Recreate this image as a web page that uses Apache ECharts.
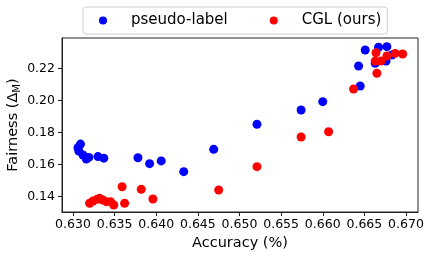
<!DOCTYPE html>
<html><head><meta charset="utf-8">
<script src="https://cdn.jsdelivr.net/npm/echarts@6/dist/echarts.min.js"></script>
<style>html,body{margin:0;padding:0;background:#fff}#c{width:432px;height:259px}</style>
</head><body><div id="c"></div>
<script>
const xTicks = [0.630,0.635,0.640,0.645,0.650,0.655,0.660,0.665,0.670];
const yTicks = [0.14,0.16,0.18,0.20,0.22];
const pseudoAcc  = [0.6309,0.6306,0.6307,0.6312,0.6316,0.6319,0.6330,0.6337,0.6378,0.6392,0.6406,0.6433,0.6469,0.6521,0.6574,0.6600,0.6645,0.6643,0.6651,0.6667,0.6677,0.6663,0.6676,0.6683];
const pseudoFair = [0.1728,0.1705,0.1685,0.1660,0.1635,0.1645,0.1650,0.1640,0.1643,0.1606,0.1623,0.1556,0.1695,0.1851,0.1940,0.1992,0.2090,0.2214,0.2314,0.2331,0.2335,0.2231,0.2245,0.2283];
const cglAcc  = [0.6320,0.6324,0.6329,0.6332,0.6336,0.6340,0.6345,0.6349,0.6362,0.6359,0.6382,0.6396,0.6475,0.6521,0.6574,0.6607,0.6637,0.6665,0.6663,0.6670,0.6664,0.6677,0.6687,0.6696];
const cglFair = [0.1359,0.1373,0.1384,0.1390,0.1379,0.1369,0.1369,0.1348,0.1359,0.1462,0.1446,0.1386,0.1442,0.1587,0.1772,0.1805,0.2071,0.2169,0.2245,0.2245,0.2297,0.2277,0.2293,0.2289];

const font = 'DejaVu Sans';
const chart = echarts.init(document.getElementById('c'), null, {renderer:'canvas'});
chart.setOption({
  animation:false,
  grid:{left:62,right:14,top:38,bottom:47,show:true,borderColor:'#222',borderWidth:1,containLabel:false,outerBoundsMode:'none'},
  legend:{
    left:83, top:7, orient:'horizontal',
    padding:[6,6,6,16],
    backgroundColor:'#fff', borderColor:'#d0d0d0', borderWidth:1, borderRadius:3,
    itemWidth:8, itemHeight:8, itemGap:42, icon:'circle',
    textStyle:{fontFamily:font,fontSize:15,color:'#000',padding:[0,0,0,19]},
    data:['pseudo-label','CGL (ours)']
  },
  xAxis:{
    type:'value', min:0.62868, max:0.67144,
    name:'Accuracy (%)', nameLocation:'middle', nameGap:24, nameMoveOverlap:false,
    nameTextStyle:{fontFamily:font,fontSize:14.5,color:'#000'},
    axisLine:{show:true,onZero:false,lineStyle:{color:'#222',width:1}},
    axisTick:{show:true,length:4,customValues:xTicks,lineStyle:{color:'#222'}},
    axisLabel:{customValues:xTicks,margin:6,fontFamily:font,fontSize:12.5,color:'#000',
      formatter:v=>v.toFixed(3)},
    splitLine:{show:false}
  },
  yAxis:{
    type:'value', min:0.13047, max:0.23888,
    name:'{a|Fairness (Δ}{s|M}{a|)}', nameLocation:'middle', nameGap:40, nameRotate:90, nameMoveOverlap:false,
    nameTextStyle:{fontFamily:font,fontSize:14.5,color:'#000',
      rich:{a:{fontFamily:font,fontSize:14.5,color:'#000',lineHeight:18},
            s:{fontFamily:font,fontSize:10,color:'#000',lineHeight:18,verticalAlign:'bottom',padding:[11,0,0,0]}}},
    axisLine:{show:true,onZero:false,lineStyle:{color:'#222',width:1}},
    axisTick:{show:true,length:4,customValues:yTicks,lineStyle:{color:'#222'}},
    axisLabel:{customValues:yTicks,margin:7,fontFamily:font,fontSize:12.5,color:'#000',
      formatter:v=>v.toFixed(2)},
    splitLine:{show:false}
  },
  series:[
    {name:'pseudo-label',type:'scatter',symbolSize:9,itemStyle:{color:'#0000ff',opacity:1},
     data:pseudoAcc.map((x,i)=>[x,pseudoFair[i]])},
    {name:'CGL (ours)',type:'scatter',symbolSize:9,itemStyle:{color:'#ff0000',opacity:1},
     data:cglAcc.map((x,i)=>[x,cglFair[i]])}
  ]
});
</script></body></html>
